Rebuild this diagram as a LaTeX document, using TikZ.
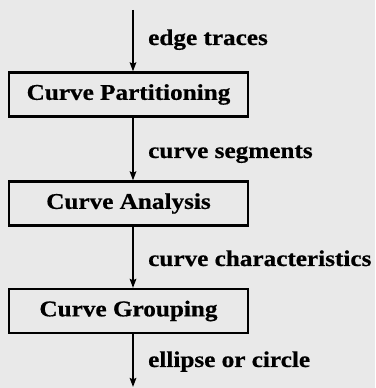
\documentclass[tikz,border=0pt]{standalone}
\usepackage{fontspec}
\setmainfont{Liberation Serif}[FakeStretch=1.12, BoldFeatures={FakeBold=0.6}]
\usetikzlibrary{arrows.meta}
\definecolor{paper}{RGB}{233,233,233}
\tikzset{
  procbox/.style={draw, line width=2.2pt, minimum width=239pt, minimum height=44pt, inner sep=0pt,
    font=\fontsize{22.5}{26}\selectfont\bfseries},
  flow/.style={line width=1.9pt, -{Stealth[length=9pt,width=6.5pt,inset=1.5pt]}},
  lbl/.style={anchor=base west, inner sep=0pt, font=\fontsize{22.5}{26}\selectfont\bfseries}
}
\begin{document}
\begin{tikzpicture}[x=1pt,y=1pt]
\fill[paper] (0,0) rectangle (375,388);
\useasboundingbox (0,0) rectangle (375,388);
\node[procbox] (b1) at (128.5,293.5) {Curve Partitioning};
\node[procbox] (b2) at (128.5,184.5) {Curve Analysis};
\node[procbox] (b3) at (128.5,77) {Curve Grouping};
\coordinate (top) at (133,378);
\coordinate (bot) at (133,1);
\draw[flow] (top) -- (top |- b1.north);
\draw[flow] ([xshift=4.5pt]b1.south) -- ([xshift=4.5pt]b2.north);
\draw[flow] ([xshift=4.5pt]b2.south) -- ([xshift=4.5pt]b3.north);
\draw[flow] ([xshift=4.5pt]b3.south) -- (bot);
\node[lbl] (l1) at (148,343) {edge traces};
\node[lbl] (l2) at (148,230) {curve segments};
\node[lbl] (l3) at (148,122) {curve characteristics};
\node[lbl] (l4) at (148,21) {ellipse or circle};
\end{tikzpicture}
\end{document}
